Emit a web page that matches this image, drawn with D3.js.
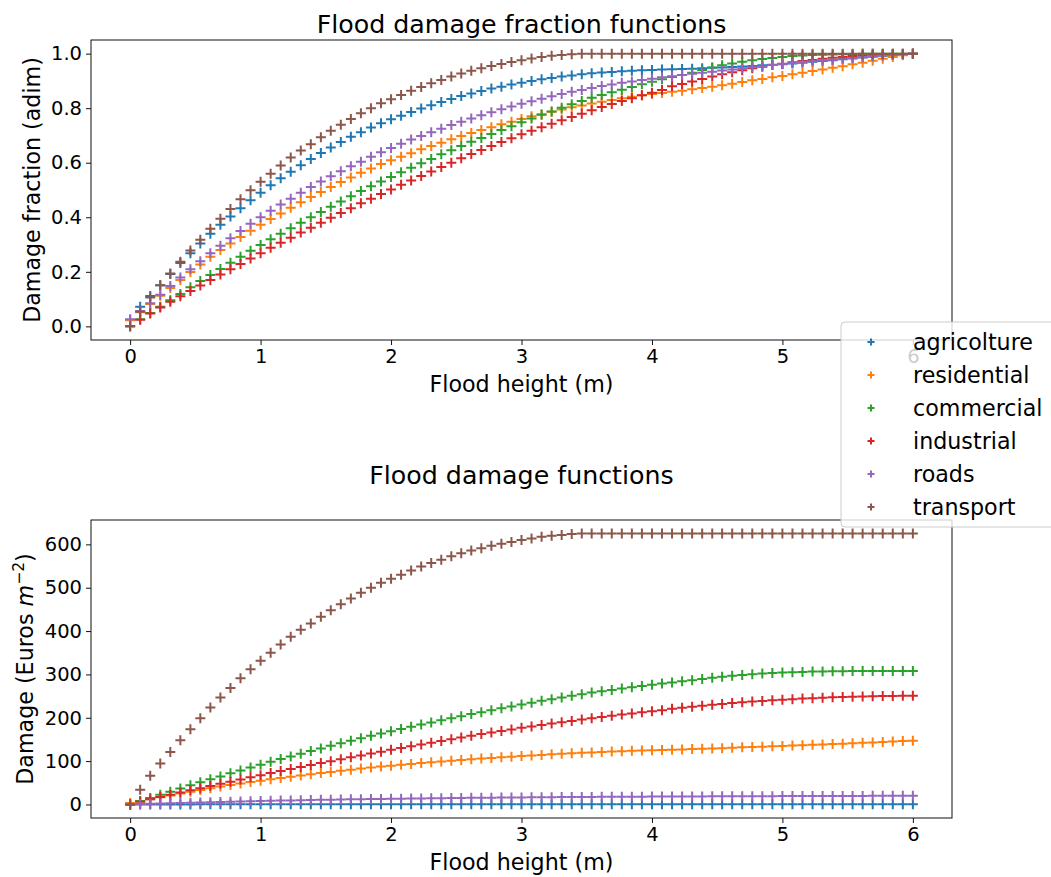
<!DOCTYPE html>
<html>
<head>
<meta charset="utf-8">
<script src="https://cdn.jsdelivr.net/npm/d3@7"></script>
<style>
  html, body { margin: 0; padding: 0; background: #fff; }
  svg { display: block; font-family: "DejaVu Sans", sans-serif; }
</style>
</head>
<body>
<svg id="chart" width="1051" height="877"></svg>
<script>
// Flood heights (m) at which the damage functions are sampled
const heights = [
  0, 0.077, 0.154, 0.231, 0.308, 0.385, 0.462, 0.538, 0.615, 0.692, 0.769, 0.846, 0.923,
  1, 1.077, 1.154, 1.231, 1.308, 1.385, 1.462, 1.538, 1.615, 1.692, 1.769, 1.846, 1.923,
  2, 2.077, 2.154, 2.231, 2.308, 2.385, 2.462, 2.538, 2.615, 2.692, 2.769, 2.846, 2.923,
  3, 3.077, 3.154, 3.231, 3.308, 3.385, 3.462, 3.538, 3.615, 3.692, 3.769, 3.846, 3.923,
  4, 4.077, 4.154, 4.231, 4.308, 4.385, 4.462, 4.538, 4.615, 4.692, 4.769, 4.846, 4.923,
  5, 5.077, 5.154, 5.231, 5.308, 5.385, 5.462, 5.538, 5.615, 5.692, 5.769, 5.846, 5.923,
  6
];

const categories = ["agricolture", "residential", "commercial", "industrial", "roads", "transport"];
const colors = ["#1f77b4", "#ff7f0e", "#2ca02c", "#d62728", "#9467bd", "#8c564b"];

// Damage fraction (0..1) per land use at each flood height
const agricolture = [
  0.023, 0.072, 0.111, 0.151, 0.192, 0.232, 0.268, 0.304, 0.340, 0.373, 0.403, 0.433, 0.462,
  0.490, 0.517, 0.543, 0.567, 0.591, 0.614, 0.636, 0.656, 0.676, 0.695, 0.712, 0.729, 0.745,
  0.759, 0.772, 0.786, 0.799, 0.811, 0.823, 0.834, 0.845, 0.854, 0.863, 0.872, 0.879, 0.887,
  0.893, 0.900, 0.906, 0.911, 0.916, 0.920, 0.924, 0.928, 0.931, 0.933, 0.935, 0.937, 0.939,
  0.940, 0.942, 0.943, 0.944, 0.945, 0.946, 0.948, 0.949, 0.951, 0.953, 0.955, 0.957, 0.959,
  0.961, 0.964, 0.967, 0.970, 0.973, 0.976, 0.979, 0.982, 0.986, 0.989, 0.992, 0.995, 0.998,
  1.000
];
const residential = [
  0.022, 0.052, 0.082, 0.112, 0.141, 0.170, 0.199, 0.227, 0.255, 0.280, 0.304, 0.328, 0.351,
  0.373, 0.394, 0.414, 0.435, 0.455, 0.474, 0.493, 0.511, 0.529, 0.546, 0.563, 0.579, 0.595,
  0.609, 0.622, 0.635, 0.649, 0.661, 0.673, 0.686, 0.698, 0.709, 0.720, 0.730, 0.741, 0.750,
  0.760, 0.770, 0.778, 0.787, 0.795, 0.803, 0.810, 0.817, 0.824, 0.830, 0.836, 0.842, 0.847,
  0.852, 0.856, 0.860, 0.864, 0.869, 0.874, 0.879, 0.884, 0.890, 0.896, 0.902, 0.907, 0.913,
  0.918, 0.924, 0.930, 0.936, 0.942, 0.948, 0.954, 0.961, 0.967, 0.974, 0.981, 0.988, 0.994,
  1.000
];
const commercial = [
  0.000, 0.026, 0.049, 0.072, 0.096, 0.119, 0.143, 0.166, 0.188, 0.210, 0.233, 0.255, 0.277,
  0.298, 0.319, 0.340, 0.360, 0.380, 0.400, 0.419, 0.439, 0.458, 0.477, 0.496, 0.514, 0.531,
  0.548, 0.565, 0.582, 0.598, 0.614, 0.631, 0.646, 0.661, 0.677, 0.691, 0.705, 0.720, 0.734,
  0.748, 0.762, 0.776, 0.788, 0.802, 0.814, 0.826, 0.838, 0.848, 0.858, 0.868, 0.878, 0.888,
  0.897, 0.906, 0.914, 0.922, 0.930, 0.940, 0.949, 0.957, 0.964, 0.970, 0.976, 0.980, 0.984,
  0.988, 0.991, 0.993, 0.995, 0.996, 0.997, 0.998, 0.999, 1.000, 1.000, 1.000, 1.000, 1.000,
  1.000
];
const industrial = [
  0.000, 0.024, 0.047, 0.069, 0.090, 0.110, 0.130, 0.150, 0.170, 0.190, 0.209, 0.229, 0.249,
  0.268, 0.288, 0.307, 0.325, 0.344, 0.362, 0.380, 0.398, 0.416, 0.433, 0.451, 0.468, 0.485,
  0.502, 0.519, 0.535, 0.551, 0.568, 0.584, 0.600, 0.616, 0.632, 0.647, 0.661, 0.676, 0.690,
  0.704, 0.717, 0.730, 0.743, 0.756, 0.768, 0.780, 0.792, 0.804, 0.815, 0.826, 0.836, 0.847,
  0.857, 0.867, 0.880, 0.889, 0.898, 0.907, 0.916, 0.924, 0.932, 0.939, 0.946, 0.952, 0.958,
  0.963, 0.968, 0.973, 0.977, 0.981, 0.985, 0.988, 0.991, 0.993, 0.995, 0.997, 0.998, 0.999,
  1.000
];
const roads = [
  0.026, 0.056, 0.085, 0.116, 0.148, 0.179, 0.209, 0.239, 0.268, 0.296, 0.323, 0.350, 0.376,
  0.400, 0.424, 0.447, 0.468, 0.490, 0.511, 0.531, 0.550, 0.569, 0.587, 0.604, 0.622, 0.638,
  0.654, 0.670, 0.685, 0.698, 0.712, 0.725, 0.738, 0.750, 0.762, 0.774, 0.785, 0.796, 0.806,
  0.816, 0.825, 0.835, 0.844, 0.852, 0.860, 0.867, 0.874, 0.881, 0.887, 0.893, 0.898, 0.903,
  0.908, 0.913, 0.917, 0.922, 0.926, 0.930, 0.934, 0.938, 0.942, 0.946, 0.950, 0.954, 0.958,
  0.962, 0.966, 0.969, 0.972, 0.975, 0.978, 0.981, 0.984, 0.987, 0.990, 0.993, 0.995, 0.998,
  1.000
];
const transport = [
  0.000, 0.054, 0.106, 0.151, 0.194, 0.237, 0.278, 0.318, 0.358, 0.395, 0.430, 0.466, 0.499,
  0.530, 0.560, 0.590, 0.619, 0.645, 0.668, 0.693, 0.717, 0.739, 0.760, 0.781, 0.800, 0.818,
  0.833, 0.848, 0.864, 0.878, 0.891, 0.903, 0.916, 0.927, 0.937, 0.946, 0.955, 0.962, 0.969,
  0.976, 0.982, 0.988, 0.992, 0.995, 0.998, 1.000, 1.000, 1.000, 1.000, 1.000, 1.000, 1.000,
  1.000, 1.000, 1.000, 1.000, 1.000, 1.000, 1.000, 1.000, 1.000, 1.000, 1.000, 1.000, 1.000,
  1.000, 1.000, 1.000, 1.000, 1.000, 1.000, 1.000, 1.000, 1.000, 1.000, 1.000, 1.000, 1.000,
  1.000
];

// Maximum damage per land use (Euros per m^2), reached at full damage fraction
const maxDamage = [0.63, 147, 308, 251, 20, 625];

const xTicks = [0, 1, 2, 3, 4, 5, 6];
const fractionTicks = [0.0, 0.2, 0.4, 0.6, 0.8, 1.0];
const damageTicks = [0, 100, 200, 300, 400, 500, 600];

const fractions = [agricolture, residential, commercial, industrial, roads, transport];

const svg = d3.select("#chart");
svg.append("rect").attr("width", 1051).attr("height", 877).attr("fill", "#fff");

const TICK_FONT = 19.5;
const LABEL_FONT = 22.2;
const TITLE_FONT = 25.3;

function padded(lo, hi) {
  const m = (hi - lo) * 0.05;
  return [lo - m, hi + m];
}

const xDomain = padded(d3.min(heights), d3.max(heights));

function drawPanel(opts) {
  const { top, bottom, left, right, series, yTicks, yFmt, title, titleY, xLabelY, yLabel } = opts;
  const allVals = series.flat();
  const x = d3.scaleLinear().domain(xDomain).range([left, right]);
  const y = d3.scaleLinear().domain(padded(d3.min(allVals), d3.max(allVals))).range([bottom, top]);

  const g = svg.append("g");

  // points, one '+' per sample, series drawn in order
  const plus = "M-5,0H5M0,-5V5";
  series.forEach((vals, si) => {
    g.append("g")
      .selectAll("path")
      .data(vals.map((v, i) => [heights[i], v]))
      .join("path")
      .attr("d", plus)
      .attr("transform", d => `translate(${x(d[0])},${y(d[1])})`)
      .attr("stroke", colors[si])
      .attr("stroke-width", 2)
      .attr("fill", "none");
  });

  // frame
  g.append("rect")
    .attr("x", left).attr("y", top)
    .attr("width", right - left).attr("height", bottom - top)
    .attr("fill", "none").attr("stroke", "#111").attr("stroke-width", 1);

  // x axis
  const xAxis = d3.axisBottom(x).tickValues(xTicks).tickFormat(d3.format("d")).tickSize(5).tickPadding(4);
  const xg = g.append("g").attr("transform", `translate(0,${bottom})`).call(xAxis);
  xg.select(".domain").remove();
  xg.selectAll("text").attr("font-size", TICK_FONT).attr("fill", "#000").attr("font-family", "DejaVu Sans");
  xg.selectAll("line").attr("stroke", "#111");

  // y axis
  const yAxis = d3.axisLeft(y).tickValues(yTicks).tickFormat(yFmt).tickSize(5).tickPadding(4);
  const yg = g.append("g").attr("transform", `translate(${left},0)`).call(yAxis);
  yg.select(".domain").remove();
  yg.selectAll("text").attr("font-size", TICK_FONT).attr("fill", "#000").attr("font-family", "DejaVu Sans");
  yg.selectAll("line").attr("stroke", "#111");

  // title
  svg.append("text")
    .attr("x", (left + right) / 2).attr("y", titleY)
    .attr("text-anchor", "middle").attr("dy", "0.35em")
    .attr("font-size", TITLE_FONT)
    .text(title);

  // x label
  svg.append("text")
    .attr("x", (left + right) / 2).attr("y", xLabelY)
    .attr("text-anchor", "middle").attr("dy", "0.35em")
    .attr("font-size", LABEL_FONT)
    .text("Flood height (m)");

  yLabel(svg, top, bottom);
}

const L = 91, R = 952;

drawPanel({
  top: 40, bottom: 340, left: L, right: R,
  series: fractions,
  yTicks: fractionTicks,
  yFmt: d3.format(".1f"),
  title: "Flood damage fraction functions",
  titleY: 24,
  xLabelY: 384,
  yLabel: (s, top, bottom) => {
    s.append("text")
      .attr("transform", `translate(32,${(top + bottom) / 2}) rotate(-90)`)
      .attr("text-anchor", "middle").attr("dy", "0.35em")
      .attr("font-size", LABEL_FONT)
      .text("Damage fraction (adim)");
  }
});

// damage in Euros per m^2 = damage fraction x maximum damage
const damages = fractions.map((f, k) => f.map(v => v * maxDamage[k]));

drawPanel({
  top: 520, bottom: 818, left: L, right: R,
  series: damages,
  yTicks: damageTicks,
  yFmt: d3.format("d"),
  title: "Flood damage functions",
  titleY: 475,
  xLabelY: 862,
  yLabel: (s, top, bottom) => {
    const t = s.append("text")
      .attr("transform", `translate(25,${(top + bottom) / 2}) rotate(-90)`)
      .attr("text-anchor", "middle").attr("dy", "0.35em")
      .attr("font-size", LABEL_FONT);
    t.append("tspan").text("Damage (Euros ");
    t.append("tspan").attr("font-style", "italic").text("m");
    t.append("tspan").attr("font-size", LABEL_FONT * 0.7).attr("dy", "-0.55em").text("\u22122");
    t.append("tspan").attr("dy", "0.4em").text(")");
  }
});

// legend, placed across the gap between the panels
const legend = svg.append("g");
legend.append("rect")
  .attr("x", 841).attr("y", 322).attr("width", 230).attr("height", 205)
  .attr("rx", 4)
  .attr("fill", "#fff").attr("fill-opacity", 0.8)
  .attr("stroke", "#ccc").attr("stroke-width", 1);
categories.forEach((c, i) => {
  const yy = 342 + i * 33;
  legend.append("path")
    .attr("d", "M-3.5,0H3.5M0,-3.5V3.5")
    .attr("transform", `translate(871,${yy})`)
    .attr("stroke", colors[i]).attr("stroke-width", 2).attr("fill", "none");
  legend.append("text")
    .attr("x", 913).attr("y", yy).attr("dy", "0.35em")
    .attr("font-size", LABEL_FONT)
    .text(c);
});
</script>
</body>
</html>
